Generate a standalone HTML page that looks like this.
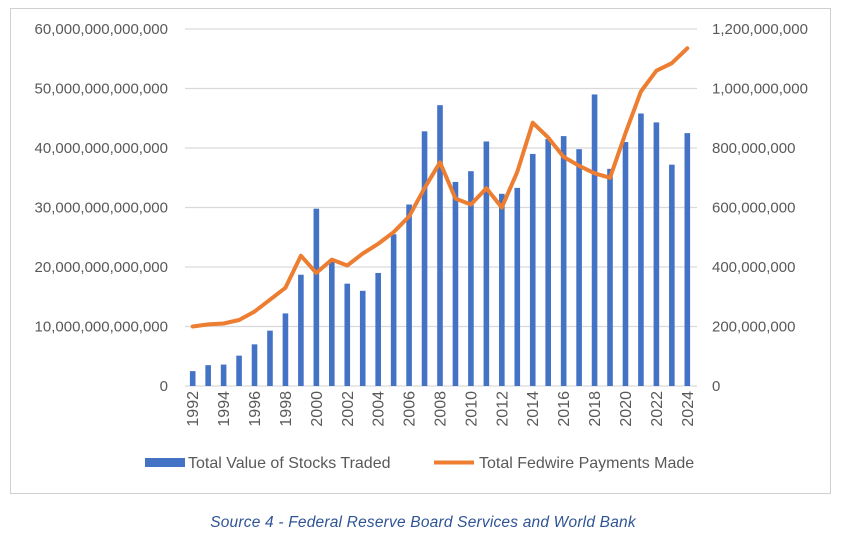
<!DOCTYPE html>
<html><head><meta charset="utf-8"><style>
body{margin:0;background:#fff;width:846px;height:556px;overflow:hidden;font-family:"Liberation Sans",sans-serif}
#frame{position:absolute;left:10px;top:8px;width:819px;height:484px;border:1px solid #d0d0d0}
#cap{position:absolute;left:0;width:846px;top:514px;text-align:center;color:#2f5496;font-style:italic;font-size:15.5px;letter-spacing:0.2px}
</style></head><body>
<div id="frame"></div>
<svg id="chart" width="846" height="556" style="position:absolute;left:0;top:0"></svg>
<div id="cap">Source 4 - Federal Reserve Board Services and World Bank</div>
<script>
const years=[1992,1993,1994,1995,1996,1997,1998,1999,2000,2001,2002,2003,2004,2005,2006,2007,2008,2009,2010,2011,2012,2013,2014,2015,2016,2017,2018,2019,2020,2021,2022,2023,2024];
const stocksTrillions=[2.5,3.5,3.6,5.1,7,9.3,12.2,18.7,29.8,21,17.2,16,19,25.5,30.5,42.8,47.2,34.3,36.1,41.1,32.3,33.3,39,41.5,42,39.8,49,36.5,41,45.8,44.3,37.2,42.5];
const fedwireMillions=[200,207,210,222,250,290,330,438,380,425,405,445,478,517,570,665,752,630,610,665,600,720,885,835,770,740,715,700,850,990,1060,1085,1135];
const leftTicks=["0","10,000,000,000,000","20,000,000,000,000","30,000,000,000,000","40,000,000,000,000","50,000,000,000,000","60,000,000,000,000"];
const rightTicks=["0","200,000,000","400,000,000","600,000,000","800,000,000","1,000,000,000","1,200,000,000"];
const NS="http://www.w3.org/2000/svg",svg=document.getElementById('chart');
const y0=386,yTop=29,x0=192.7,x1=687.3;
const yL=v=>y0-(v/60)*(y0-yTop);
const yR=v=>y0-(v/1200)*(y0-yTop);
const xC=i=>x0+i*(x1-x0)/(years.length-1);
function mk(t,a,txt){const e=document.createElementNS(NS,t);for(const k in a)e.setAttribute(k,a[k]);if(txt!==undefined)e.textContent=txt;svg.appendChild(e);return e;}
leftTicks.forEach((t,i)=>{const y=y0-i*(y0-yTop)/6;
 const g=mk('line',{x1:185,x2:697,y1:y,y2:y,stroke:'#d9d9d9','stroke-width':1.3});
 
 
 const l=mk('text',{x:168,y:y+5,'text-anchor':'end','font-size':15,fill:'#595959'},t);
 
 
 const r=mk('text',{x:712,y:y+5,'font-size':15,fill:'#595959'},rightTicks[i]);
 
 
});
stocksTrillions.forEach((v,i)=>{const b=mk('rect',{x:xC(i)-2.8,y:yL(v),width:5.6,height:y0-yL(v),fill:'#4472c4'});
 
 });
const pts=fedwireMillions.map((v,i)=>xC(i).toFixed(1)+','+yR(v).toFixed(1)).join(' ');
const ln=mk('polyline',{points:pts,fill:'none',stroke:'#ed7d31','stroke-width':4,'stroke-linejoin':'round','stroke-linecap':'round'});


years.forEach((yr,i)=>{if(i%2)return;const x=xC(i)+5.5,y=391;
 const t=mk('text',{x:x,y:y,transform:`rotate(-90 ${x} ${y})`,'text-anchor':'end','font-size':16,fill:'#595959'},yr);
 
 });
const l1=mk('rect',{x:145,y:458,width:40,height:9,fill:'#4472c4'});


const t1=mk('text',{x:188,y:468,'font-size':16,fill:'#595959'},'Total Value of Stocks Traded');


const l2=mk('line',{x1:434,x2:474,y1:462.5,y2:462.5,stroke:'#ed7d31','stroke-width':4});


const t2=mk('text',{x:479,y:468,'font-size':16,fill:'#595959'},'Total Fedwire Payments Made');


</script>
</body></html>
